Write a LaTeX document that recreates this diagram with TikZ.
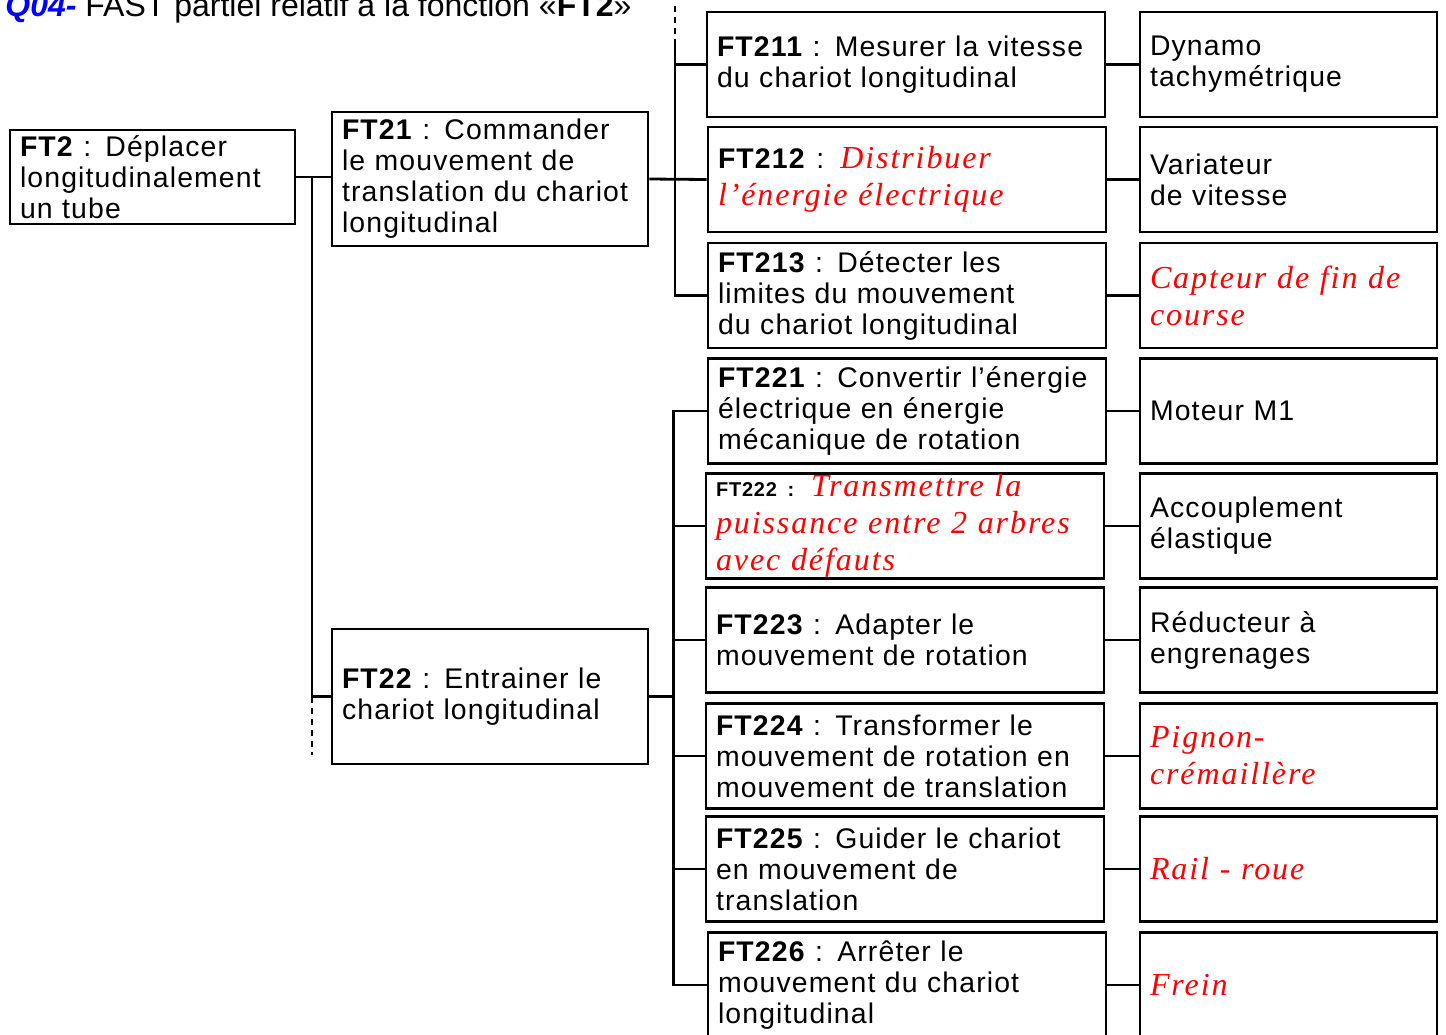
\documentclass[tikz,border=0pt]{standalone}
\usepackage{fontspec}
\setmainfont{Liberation Sans}[LetterSpace=4, WordSpace=0.8]
\newfontfamily\titlefont{Liberation Sans}
\newfontfamily\redfont{Liberation Serif}[LetterSpace=6]
\usetikzlibrary{positioning}

\newcommand{\fnsize}{\fontsize{14.2}{15.5}\selectfont}
\newcommand{\rougefont}{\redfont\itshape\fontsize{16}{18.5}\selectfont}
\newcommand{\ftlab}[1]{{\normalfont\fnsize\color{black}\textbf{#1} :}}

\begin{document}
\begin{tikzpicture}[
    x=0.5pt, y=-0.5pt,
    function box/.style={draw, line width=1.4pt, rectangle, inner xsep=5pt,
    inner ysep=0pt, align=left, font=\fnsize},
    sub box/.style={function box, minimum width=199pt, minimum height=52.5pt,
    text width=189pt},
    solution box/.style={function box, minimum width=148.5pt,
    minimum height=52.5pt, text width=138.5pt},
    red text/.style={font=\rougefont, text=red},
    link/.style={line width=1.4pt},
    dashed link/.style={line width=1.4pt, dash pattern=on 3pt off 2.5pt}
    ]
    \useasboundingbox (0,0) rectangle (1446,1034);

    % title
    \node[anchor=base west, inner sep=0pt, font=\titlefont\fontsize{16}{18}\selectfont]
    (title) at (5,16) {\textcolor{blue}{\bfseries\itshape Q04-} FAST partiel relatif
    à la fonction «\textbf{FT2}»};

    % main functions
    \node[function box, minimum width=142.5pt, minimum height=47pt,
    text width=132.5pt] (ft2) at (152.5,177)
    {\ftlab{FT2} Déplacer\\ longitudinalement\\ un tube};
    \node[function box, minimum width=158pt, minimum height=67pt,
    text width=148pt] (ft21) at (490,179)
    {\ftlab{FT21} Commander\\ le mouvement de\\ translation du chariot\\ longitudinal};
    \node[function box, minimum width=158pt, minimum height=67.5pt,
    text width=148pt] (ft22) at (490,696.5)
    {\ftlab{FT22} Entrainer le\\ chariot longitudinal};

    % sub functions of FT21
    \node[sub box] (ft211) at (906,64.5)
    {\ftlab{FT211} Mesurer la vitesse\\ du chariot longitudinal};
    \node[sub box, red text] (ft212) at (907,179.5)
    {\ftlab{FT212} Distribuer\\ l’énergie électrique};
    \node[sub box] (ft213) at (907,295.5)
    {\ftlab{FT213} Détecter les\\ limites du mouvement\\ du chariot longitudinal};

    % sub functions of FT22
    \node[sub box] (ft221) at (907,411)
    {\ftlab{FT221} Convertir l’énergie\\ électrique en énergie\\ mécanique de rotation};
    \node[sub box, red text] (ft222) at (905,526)
    {{\normalfont\fontsize{10}{12}\selectfont\color{black}\textbf{FT222 :}}
    Transmettre la\\ puissance entre 2 arbres\\ avec défauts};
    \node[sub box] (ft223) at (905,640)
    {\ftlab{FT223} Adapter le\\ mouvement de rotation};
    \node[sub box] (ft224) at (905,756)
    {\ftlab{FT224} Transformer le\\ mouvement de rotation en\\ mouvement de translation};
    \node[sub box] (ft225) at (905,869)
    {\ftlab{FT225} Guider le chariot\\ en mouvement de\\ translation};
    \node[sub box] (ft226) at (907,985)
    {\ftlab{FT226} Arrêter le\\ mouvement du chariot\\ longitudinal};

    % solutions
    \node[solution box] (s211) at (1288.5,64.5) {Dynamo\\ tachymétrique};
    \node[solution box] (s212) at (1288.5,179.5) {Variateur\\ de vitesse};
    \node[solution box, red text] (s213) at (1288.5,295.5) {Capteur de fin de\\ course};
    \node[solution box] (s221) at (1288.5,411) {Moteur M1};
    \node[solution box] (s222) at (1288.5,526) {Accouplement\\ élastique};
    \node[solution box] (s223) at (1288.5,640) {Réducteur à\\ engrenages};
    \node[solution box, red text] (s224) at (1288.5,756) {Pignon-\\ crémaillère};
    \node[solution box, red text] (s225) at (1288.5,869) {Rail - roue};
    \node[solution box, red text] (s226) at (1288.5,985) {Frein};

    % Lines
    \draw[link] (ft2.east) -- (ft2.east -| ft21.west) coordinate (c2);
    \coordinate (b2) at (312,0);
    \draw[link] (c2 -| b2) |- (ft22.west);
    \draw[dashed link] (ft22.west -| b2) -- ++(0,58);

    \draw[link] (ft21.east) -- (ft212.west);
    \coordinate (c21) at (675,45);
    \draw[dashed link] (675,6) -- (c21);
    \draw[link] (c21) |- (ft211.west);
    \draw[link] (c21) |- (ft213.west);

    \draw[link] (ft22.east) -- ++(24,0) coordinate (c22);
    \draw[link] (c22) |- (ft221.west);
    \draw[link] (c22) |- (ft226.west);
    \foreach \n in {222,223,224,225}
        \draw[link] (ft\n.west) -- (ft\n.west -| c22);

    \foreach \n in {211,212,213,221,222,223,224,225,226}
        \draw[link] (ft\n.east) -- (s\n.west);

\end{tikzpicture}
\end{document}
